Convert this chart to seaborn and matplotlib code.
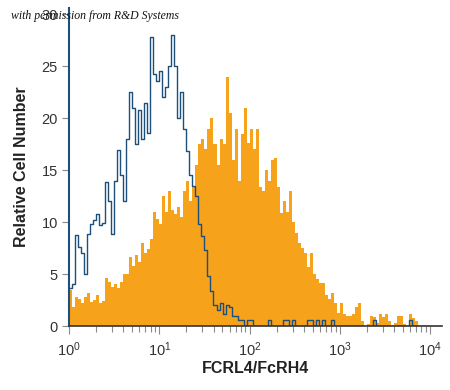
"""
Flow cytometry overlay: FCRL4/FcRH4 staining (orange) vs isotype control (blue)
"""
import numpy as np
import pandas as pd
import matplotlib
matplotlib.use("Agg")
import matplotlib.pyplot as plt
import seaborn as sns

sns.set_style("white")
plt.rcParams["font.family"] = ["Liberation Sans", "DejaVu Sans"]
plt.rcParams["mathtext.default"] = "regular"

ORANGE = "#F7A21B"
BLUE = "#1C4F7C"
GREY = "#8a8a8a"

# 120 channels over four decades (30 per decade), counts
N_BINS = 120
stained = [
    3.5, 1.8, 2.8, 2.6, 2.2, 2.8, 3.2, 2.3, 2.5, 3.0,
    2.2, 2.4, 4.6, 4.2, 3.8, 4.0, 3.7, 4.2, 5.0, 5.0,
    6.6, 5.8, 6.8, 6.2, 8.0, 7.0, 7.4, 8.4, 11.0, 10.3,
    9.8, 12.5, 11.0, 13.0, 11.2, 10.8, 11.5, 10.5, 13.0, 14.0,
    12.0, 13.5, 15.5, 17.5, 18.0, 17.0, 19.0, 20.0, 17.5, 15.5,
    18.0, 17.5, 24.0, 20.5, 16.0, 19.0, 14.0, 18.5, 21.0, 17.6,
    19.0, 17.0, 19.0, 13.4, 13.0, 15.0, 14.0, 16.0, 16.2, 13.4,
    10.9, 12.0, 11.0, 13.0, 10.0, 9.0, 8.0, 7.5, 7.0, 5.7,
    7.0, 5.0, 4.5, 4.1, 4.1, 3.0, 2.6, 3.2, 2.2, 1.3,
    2.2, 1.2, 1.0, 1.0, 1.2, 1.8, 2.2, 0.5, 0.0, 0.2,
    1.0, 0.9, 0.3, 1.2, 0.9, 1.2, 0.5, 0.0, 0.3, 1.0,
    1.0, 0.2, 0.0, 1.2, 0.8, 0.5, 0.0, 0.0, 0.0, 0.0,
]
isotype = [
    3.7, 4.0, 8.8, 7.6, 7.0, 5.0, 8.9, 9.8, 10.2, 10.8,
    9.7, 9.9, 13.9, 12.0, 8.9, 14.0, 16.9, 14.5, 12.0, 18.0,
    22.5, 21.0, 17.5, 20.8, 18.0, 21.5, 18.6, 27.8, 24.3, 23.6,
    24.5, 22.0, 23.0, 25.0, 28.0, 25.0, 20.0, 22.5, 19.0, 16.8,
    14.5, 13.5, 12.5, 9.8, 8.7, 7.3, 4.8, 3.4, 2.0, 1.5,
    2.2, 1.2, 2.0, 1.8, 1.0, 1.0, 0.6, 0.6, 0.0, 0.6,
    0.6, 0.0, 0.0, 0.0, 0.0, 0.0, 0.6, 0.0, 0.0, 0.0,
    0.0, 0.6, 0.6, 0.0, 0.6, 0.0, 0.0, 0.0, 0.0, 0.6,
    0.6, 0.0, 0.6, 0.0, 0.6, 0.0, 0.0, 0.6, 0.0, 0.0,
    0.0, 0.0, 0.0, 0.0, 0.0, 0.0, 0.0, 0.0, 0.0, 0.0,
    0.0, 0.6, 0.0, 0.0, 0.0, 0.0, 0.0, 0.0, 0.0, 0.0,
    0.0, 0.0, 0.0, 0.6, 0.0, 0.0, 0.0, 0.0, 0.0, 0.0,
]
decades = [0, 1, 2, 3, 4]
y_ticks = [0, 5, 10, 15, 20, 25, 30]

edges = np.linspace(0, 4, N_BINS + 1)
df = pd.DataFrame({
    "log_fl": (edges[:-1] + edges[1:]) / 2,
    "stained": stained,
    "isotype": isotype,
})

fig = plt.figure(figsize=(4.5, 3.9), dpi=100)
ax = fig.add_axes([0.1533, 0.164, 0.8289, 0.8154])

sns.histplot(data=df, x="log_fl", weights="stained", bins=N_BINS, binrange=(0, 4),
             element="step", fill=True, color=ORANGE, alpha=1, linewidth=0, ax=ax)
sns.histplot(data=df, x="log_fl", weights="isotype", bins=N_BINS, binrange=(0, 4),
             element="step", fill=False, color=BLUE, linewidth=1.0, ax=ax)

ax.set_xlim(0, 4.13)
ax.set_ylim(0, 30.6)

# fake log axis (data already in log10 units)
minor = [d + np.log10(m) for d in decades[:-1] for m in range(2, 10)]
ax.set_xticks(decades)
ax.set_xticks(minor, minor=True)
ax.set_xticklabels([f"$10^{{{d}}}$" for d in decades])
ax.set_yticks(y_ticks)

ax.tick_params(axis="x", which="major", direction="out", length=6, width=0.8,
               color=GREY, labelsize=10.5, labelcolor="#333333", pad=4, bottom=True)
ax.tick_params(axis="x", which="minor", direction="out", length=4, width=0.8,
               color=GREY, bottom=True)
ax.tick_params(axis="y", direction="out", length=5, width=0.8, color=GREY,
               labelsize=10.5, labelcolor="#333333", pad=3, left=True)

sns.despine(ax=ax)
ax.spines["left"].set_color(BLUE)
ax.spines["left"].set_linewidth(1.5)
ax.spines["bottom"].set_color("#333333")
ax.spines["bottom"].set_linewidth(1.2)
ax.set_zorder(1)

ax.set_ylabel("Relative Cell Number", fontsize=11.5, fontweight="bold", color="#222222",
              labelpad=9)
ax.set_xlabel("FCRL4/FcRH4", fontsize=11.5, fontweight="bold", color="#222222",
              labelpad=2)

fig.text(0.025, 0.958, "with permission from R&D Systems", fontsize=8.5,
         style="italic", family=["Liberation Serif", "DejaVu Serif"], color="#111111",
         va="center", ha="left", zorder=5)

plt.savefig("out.png", dpi=100)
